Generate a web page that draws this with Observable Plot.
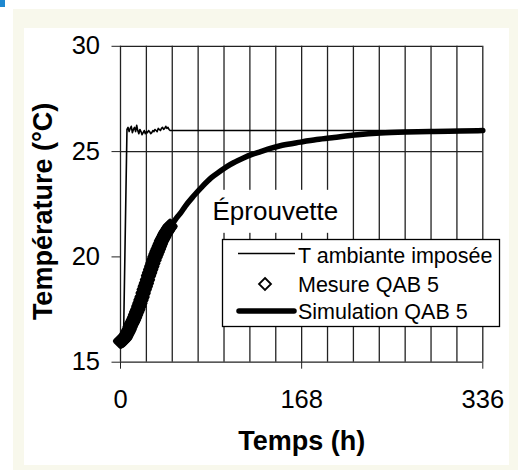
<!DOCTYPE html>
<html><head><meta charset="utf-8">
<script src="https://cdn.jsdelivr.net/npm/d3@7"></script>
<script src="https://cdn.jsdelivr.net/npm/@observablehq/plot@0.6"></script>
<style>
body{margin:0;background:#fff;}
#wrap{position:relative;width:518px;height:470px;overflow:hidden;font-family:"Liberation Sans",Arial,sans-serif;}
.bg{position:absolute;}
#chart{position:absolute;left:0;top:0;}
</style></head><body>
<div id="wrap">
<div class="bg" style="left:0;top:0;width:5px;height:7px;background:#1e88d0"></div>
<div class="bg" style="left:13px;top:9px;width:505px;height:461px;background:#f8f8ec"></div>
<div class="bg" style="left:24px;top:28px;width:485px;height:437px;background:#fff"></div>
<div id="chart"></div>
</div>
<script>
// ---- data ----
const xGrid = [0, 24, 48, 72, 96, 120, 144, 168, 192, 216, 240, 264, 288, 312, 336];
const xTicks = [0, 168, 336];
const yTicks = [15, 20, 25, 30];
const yGrid = [25, 30];

const measTime = [0,1,2,3,4,5,6,7,8,9,10,11,12,13,14,15,16,17,18,19,20,21,22,23,24,25,26,27,28,29,30,31,32,33,34,35,36,37,38,39,40,41,42,43,44,45,46];
const measTemp = [16.00,16.02,16.05,16.10,16.15,16.25,16.35,16.45,16.55,16.68,16.80,16.90,17.00,17.12,17.25,17.38,17.50,17.65,17.80,17.95,18.10,18.28,18.45,18.60,18.75,18.92,19.10,19.25,19.40,19.55,19.70,19.85,20.00,20.12,20.25,20.38,20.50,20.62,20.75,20.85,20.95,21.05,21.15,21.22,21.30,21.38,21.45];

const simTime = [0,4,8,12,16,20,24,28,32,36,40,44,48,52,56,60,68,76,84,92,99,106,114,122,130,139,150,167,182,198,220,241,265,291,315,336];
const simTemp = [16.0,16.15,16.55,17.0,17.5,18.1,18.75,19.4,20.0,20.5,20.95,21.3,21.55,21.85,22.1,22.4,22.9,23.35,23.75,24.05,24.3,24.5,24.7,24.87,25.0,25.15,25.3,25.45,25.57,25.67,25.8,25.88,25.93,25.96,25.98,26.0];

const ambTime = [0,2.8,6,7,8,9,10,11,12,13,14,15,16,17,18,19,20,21,22,23,24,25,26,27,28,29,30,31,32,33,34,35,36,37,38,39,40,41,42,43,44,45,46,336];
const ambTemp = [16.0,16.1,26.05,26.15,25.95,26.10,26.20,25.90,26.05,26.15,25.95,26.25,26.00,25.85,26.05,25.95,25.80,25.90,26.00,25.85,25.95,25.90,26.00,25.95,25.85,25.90,26.00,25.95,26.05,26.00,25.95,26.10,26.05,26.00,26.10,26.15,26.05,26.10,26.20,26.10,26.15,26.05,26.00,26.00];

const legendLabels = ["T ambiante imposée", "Mesure QAB 5", "Simulation QAB 5"];
const annotationText = "Éprouvette";
const xTitle = "Temps (h)";
const yTitle = "Température (°C)";

// ---- tables ----
const meas = measTime.map((t, i) => ({t, T: measTemp[i]}));
const sim = simTime.map((t, i) => ({t, T: simTemp[i]}));
const amb = ambTime.map((t, i) => ({t, T: ambTemp[i]}));

const font = '"Liberation Sans", Arial, Helvetica, sans-serif';
const gridColor = "#222";

const plot = Plot.plot({
  width: 518,
  height: 470,
  marginLeft: 120,
  marginRight: 35.7,
  marginTop: 45.8,
  marginBottom: 108.3,
  style: {background: "transparent", fontFamily: font, color: "#000"},
  x: {domain: [0, 336]},
  y: {domain: [15, 30]},
  marks: [
    Plot.ruleX(xGrid, {stroke: gridColor, strokeWidth: 1.3}),
    Plot.ruleY(yGrid, {stroke: gridColor, strokeWidth: 1.3}),
    Plot.ruleY([15], {stroke: gridColor, strokeWidth: 1.3}),
    Plot.axisY({ticks: yTicks, tickSize: 8.5, tickPadding: 12, fontSize: 25.5, label: null, stroke: gridColor}),
    Plot.axisX({ticks: xTicks, tickSize: 7, tickPadding: 21, fontSize: 25.5, label: null, stroke: gridColor}),
    Plot.line(amb, {x: "t", y: "T", stroke: "#000", strokeWidth: 1.6}),
    Plot.dot(meas, {x: "t", y: "T", symbol: "diamond2", r: 4.6, stroke: "#000", strokeWidth: 5, strokeLinejoin: "round", fill: "#000"}),
    Plot.line(sim, {x: "t", y: "T", stroke: "#000", strokeWidth: 5.5, curve: "monotone-x", strokeLinecap: "round"}),
    Plot.text([annotationText], {frameAnchor: "top-left", textAnchor: "start", lineAnchor: "middle", dx: 92, dy: 165.2, fontSize: 26, fill: "#000"}),
    Plot.text([xTitle], {frameAnchor: "bottom", lineAnchor: "top", dy: 68.5, fontSize: 27, fontWeight: "bold", fill: "#000"}),
    Plot.text([yTitle], {frameAnchor: "left", textAnchor: "middle", rotate: -90, lineAnchor: "middle", dx: -77.2, dy: 7.2, fontSize: 27, fontWeight: "bold", fill: "#000"})
  ]
});
document.getElementById("chart").appendChild(plot);

const svg = d3.select(plot);

// white box behind the annotation
svg.selectAll("text").filter(function () { return this.textContent === annotationText; }).each(function () {
  const bb = this.getBBox();
  const r = d3.select(this.parentNode).insert("rect", () => this)
    .attr("x", bb.x - 5).attr("y", bb.y - 6)
    .attr("width", bb.width + 11).attr("height", bb.height + 13)
    .attr("fill", "#fff");
  const tr = this.getAttribute("transform");
  if (tr) r.attr("transform", tr);
});

// legend
const L = {x: 222, y: 239, w: 277, h: 87, sx1: 238, sx2: 295, tx: 298};
const rowsY = [253.5, 284, 311];
const baseY = [262.5, 291.5, 318.5];
const lg = svg.append("g").attr("font-family", font).attr("font-size", 21.5).attr("text-anchor", "start");
lg.append("rect").attr("x", L.x + 0.5).attr("y", L.y + 0.5).attr("width", L.w).attr("height", L.h)
  .attr("fill", "#fff").attr("stroke", "#000").attr("stroke-width", 1.3);
lg.append("line").attr("x1", L.sx1).attr("x2", L.sx2).attr("y1", rowsY[0]).attr("y2", rowsY[0])
  .attr("stroke", "#000").attr("stroke-width", 1.3);
const cx = (L.sx1 + L.sx2) / 2 - 1.5, cy = rowsY[1], h = 6;
lg.append("path").attr("d", `M${cx},${cy - h}L${cx + h},${cy}L${cx},${cy + h}L${cx - h},${cy}Z`)
  .attr("fill", "none").attr("stroke", "#000").attr("stroke-width", 1.8);
lg.append("line").attr("x1", L.sx1 + 1).attr("x2", L.sx2 - 1).attr("y1", rowsY[2]).attr("y2", rowsY[2])
  .attr("stroke", "#000").attr("stroke-width", 5.5).attr("stroke-linecap", "round");
legendLabels.forEach((s, i) => {
  lg.append("text").attr("x", L.tx).attr("y", baseY[i]).attr("fill", "#000").attr("text-anchor", "start").text(s);
});
</script>
</body></html>
